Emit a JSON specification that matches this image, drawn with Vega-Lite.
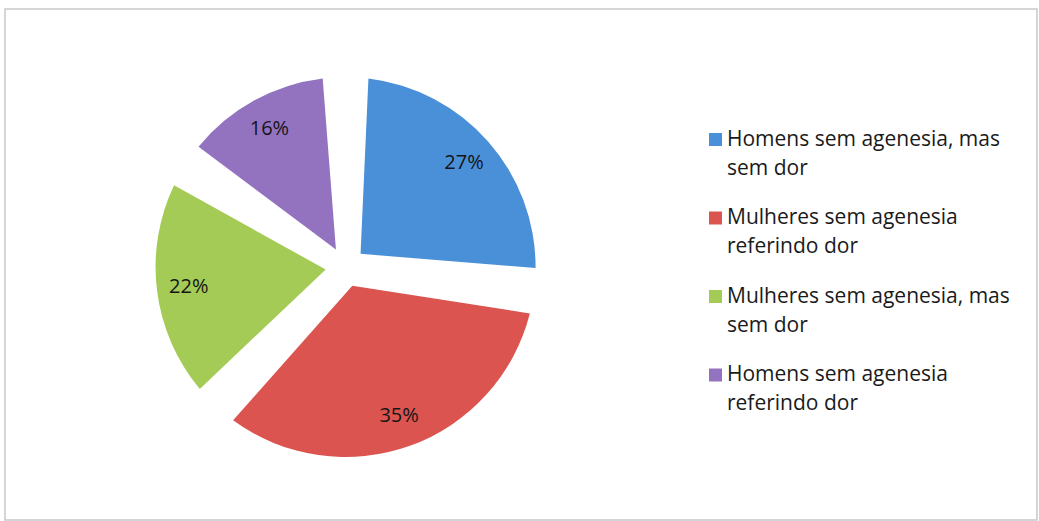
{
  "$schema": "https://vega.github.io/schema/vega-lite/v6.json",
  "width": 1039,
  "height": 521,
  "autosize": {"type": "fit", "contains": "padding"},
  "padding": {"left": 5, "top": 9, "right": 2, "bottom": 1},
  "background": "white",
  "view": {"stroke": "#c8c8c8", "strokeWidth": 1.5},
  "config": {
    "view": {"stroke": "#c8c8c8", "strokeWidth": 1.5},
    "font": "Open Sans",
    "style": {"guide-label": {"lineHeight": 29}}
  },
  "data": {
    "values": [
      {"categoria": "Homens sem agenesia, mas sem dor", "pct": 0.27, "ord": 1},
      {"categoria": "Mulheres sem agenesia referindo dor", "pct": 0.35, "ord": 2},
      {"categoria": "Mulheres sem agenesia, mas sem dor", "pct": 0.22, "ord": 3},
      {"categoria": "Homens sem agenesia referindo dor", "pct": 0.16, "ord": 4}
    ]
  },
  "encoding": {
    "theta": {"field": "pct", "type": "quantitative", "stack": true},
    "order": {"field": "ord", "type": "quantitative"}
  },
  "layer": [
    {
      "mark": {
        "type": "arc",
        "outerRadius": 190,
        "innerRadius": 20,
        "padAngle": 0.24,
        "x": {"expr": "width * 0.33"},
        "y": {"expr": "height * 0.505"}
      },
      "encoding": {
        "color": {
          "field": "categoria",
          "type": "nominal",
          "scale": {
            "domain": [
              "Homens sem agenesia, mas sem dor",
              "Mulheres sem agenesia referindo dor",
              "Mulheres sem agenesia, mas sem dor",
              "Homens sem agenesia referindo dor"
            ],
            "range": ["#4a90d9", "#db5450", "#a4cb55", "#9373c0"]
          },
          "legend": {
            "title": null,
            "orient": "none",
            "legendX": 700,
            "legendY": 120,
            "symbolType": "square",
            "symbolSize": 169,
            "symbolStrokeWidth": 0,
            "labelFontSize": 21,
            "labelFont": "Open Sans",
            "labelColor": "#1a1a1a",
            "labelLimit": 400,
            "labelOffset": 1,
            "rowPadding": 27.5,
            "labelExpr": "split(replace(replace(datum.label, ' sem dor', '|sem dor'), ' referindo', '|referindo'), '|')"
          }
        }
      }
    },
    {
      "mark": {
        "type": "text",
        "radius": 158,
        "fontSize": 20,
        "font": "Open Sans",
        "color": "#151515",
        "x": {"expr": "width * 0.33"},
        "y": {"expr": "height * 0.505"}
      },
      "encoding": {
        "text": {"field": "pct", "type": "quantitative", "format": ".0%"}
      }
    }
  ]
}
